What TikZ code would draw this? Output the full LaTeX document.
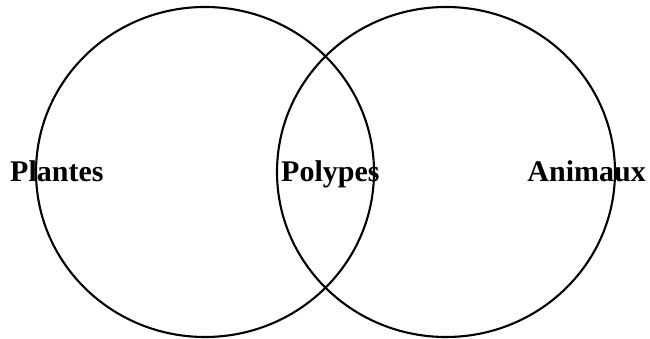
\documentclass[tikz,border=0pt]{standalone}
\usepackage{fontspec}
\setmainfont{Liberation Serif}
\begin{document}
\begin{tikzpicture}[x=1pt,y=1pt,
  ring/.style={line width=2.1pt,black},
  lbl/.style={anchor=base west,inner sep=0pt,font=\fontsize{30}{33}\selectfont\bfseries}]
\useasboundingbox (0,0) rectangle (650,339);
\draw[ring] (205,167) ellipse [x radius=169, y radius=165];
\draw[ring] (446,167) ellipse [x radius=169, y radius=165];
\node[lbl] (plantes) at (10,157) {Plantes};
\node[lbl] (polypes) at (281,157) {Polypes};
\node[lbl,anchor=base east] (animaux) at (646,157) {Animaux};
\end{tikzpicture}
\end{document}
